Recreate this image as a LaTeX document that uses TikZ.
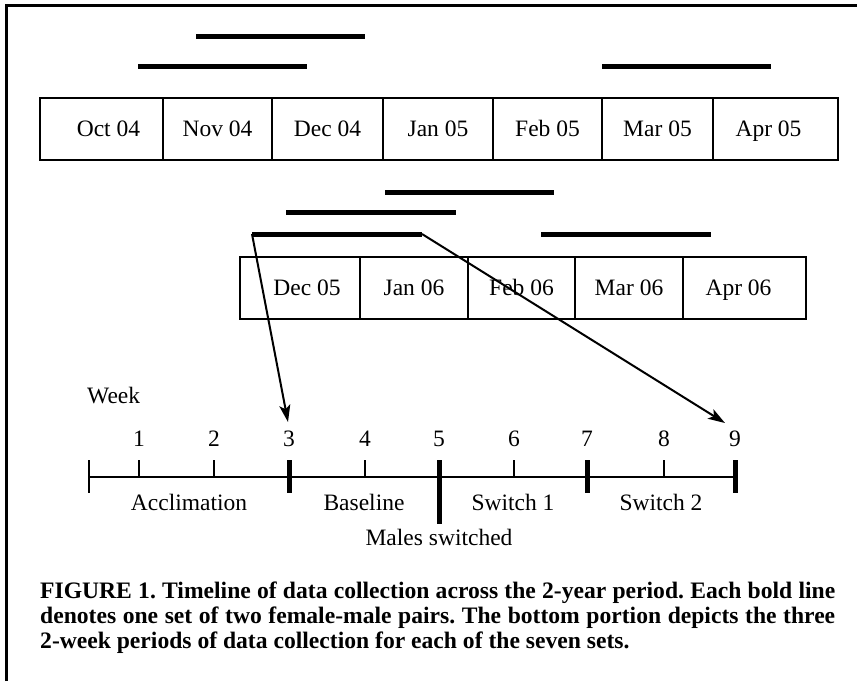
\documentclass[tikz,border=0pt]{standalone}
\usepackage{fontspec}
\setmainfont{Liberation Serif}
\usetikzlibrary{arrows.meta}
\frenchspacing
\tikzset{
  mbox/.style={draw, line width=2pt, minimum height=62pt, inner sep=0pt, anchor=west,
    text height=17pt, text depth=2pt, font=\fontsize{23.5}{28}\selectfont},
  bar/.style={line width=5pt},
  conn/.style={line width=2pt, -{Stealth[length=17pt,width=11pt,inset=4pt]}},
  axis/.style={line width=2pt},
  thintick/.style={line width=2pt},
  thicktick/.style={line width=5pt},
  lbl/.style={inner sep=0pt, anchor=base, font=\fontsize{23.5}{28}\selectfont},
  capline/.style={inner sep=0pt, anchor=base west, font=\fontsize{23.6}{25}\selectfont\bfseries},
  frame/.style={line width=2.5pt}
}
\begin{document}
\begin{tikzpicture}[x=1pt,y=-1pt]
\useasboundingbox (0,0) rectangle (857,681);
% frame
\draw[frame] (6.5,681) -- (6.5,5.5) -- (857,5.5);

% top row of months
\node[mbox, minimum width=123pt] (oct04) at (39,128.5) {\hspace*{14pt}Oct 04};
\node[mbox, minimum width=109pt] (nov04) at (162,128.5) {Nov 04};
\node[mbox, minimum width=111pt] (dec04) at (271,128.5) {Dec 04};
\node[mbox, minimum width=110pt] (jan05) at (382,128.5) {Jan 05};
\node[mbox, minimum width=109pt] (feb05) at (492,128.5) {Feb 05};
\node[mbox, minimum width=111pt] (mar05) at (601,128.5) {Mar 05};
\node[mbox, minimum width=125pt] (apr05) at (712,128.5) {Apr 05\hspace*{14pt}};

% top row bars
\coordinate (a1) at (196,36);  \coordinate (a2) at (365,36);
\coordinate (b1) at (138,66);  \coordinate (b2) at (307,66);
\coordinate (e1) at (602,66);  \coordinate (e2) at (771,66);
\draw[bar] (a1) -- (a2);
\draw[bar] (b1) -- (b2);
\draw[bar] (e1) -- (e2);

% second row of months
\node[mbox, minimum width=120pt] (dec05) at (239,287.5) {\hspace*{14pt}Dec 05};
\node[mbox, minimum width=108pt] (jan06) at (359,287.5) {Jan 06};
\node[mbox, minimum width=107pt] (feb06) at (467,287.5) {Feb 06};
\node[mbox, minimum width=108pt] (mar06) at (574,287.5) {Mar 06};
\node[mbox, minimum width=123pt] (apr06) at (682,287.5) {Apr 06\hspace*{12pt}};

% second row bars
\coordinate (f1) at (385,192); \coordinate (f2) at (554,192);
\coordinate (g1) at (286,212); \coordinate (g2) at (456,212);
\coordinate (h1) at (252,234); \coordinate (h2) at (422,234);
\coordinate (k1) at (541,234); \coordinate (k2) at (711,234);
\draw[bar] (f1) -- (f2);
\draw[bar] (g1) -- (g2);
\draw[bar] (h1) -- (h2);
\draw[bar] (k1) -- (k2);

% timeline
\node[lbl, anchor=base west] (week) at (87,403) {Week};
\coordinate (t0) at (89,477);
\coordinate (t1) at (139,477);
\coordinate (t2) at (214,477);
\coordinate (t3) at (289,477);
\coordinate (t4) at (365,477);
\coordinate (t5) at (439,477);
\coordinate (t6) at (514,477);
\coordinate (t7) at (587,477);
\coordinate (t8) at (664,477);
\coordinate (t9) at (735,477);
\draw[axis] (t0) -- (t9);
\foreach \i in {1,...,9} {
  \path (t\i) ++(0,-31) node[lbl] (w\i) {\i};
}
\draw[thintick] (t0) ++(0,-17) -- ++(0,33);
\foreach \i in {1,2,4,6,8} { \draw[thintick] (t\i) -- ++(0,-17); }
\foreach \i in {3,7,9} { \draw[thicktick] (t\i) ++(0,-17) -- ++(0,33); }
\draw[thicktick] (t5) ++(0,-17) -- ++(0,64);

\node[lbl] (accl) at (189,510) {Acclimation};
\node[lbl] (base) at (364,510) {Baseline};
\node[lbl] (sw1) at (513,510) {Switch 1};
\node[lbl] (sw2) at (661,510) {Switch 2};
\node[lbl] (males) at (439,545) {Males switched};

% arrows
\coordinate (p3) at (288,422);
\coordinate (p9) at (725,423);
\draw[conn] (h1) -- (p3);
\draw[conn] (h2) -- (p9);

% caption
\node[capline] (cap1) at (40,598) {\makebox[795pt][s]{FIGURE 1. Timeline of data collection across the 2-year period. Each bold line}};
\node[capline] (cap2) at (40,623) {\makebox[795pt][s]{denotes one set of two female-male pairs. The bottom portion depicts the three}};
\node[capline] (cap3) at (40,648) {2-week periods of data collection for each of the seven sets.};
\end{tikzpicture}
\end{document}
